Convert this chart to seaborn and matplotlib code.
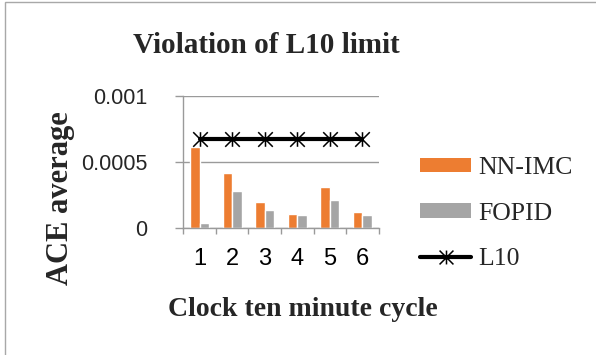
import numpy as np
import pandas as pd
import matplotlib
matplotlib.use('Agg')
import matplotlib.pyplot as plt
import seaborn as sns
from matplotlib.path import Path
from matplotlib.patches import Patch, Rectangle
from matplotlib.lines import Line2D

# ---- data ----
cycles = ['1', '2', '3', '4', '5', '6']
nn_imc = [0.00061, 0.00042, 0.00020, 0.00011, 0.00031, 0.00012]
fopid = [0.00004, 0.00028, 0.00014, 0.00010, 0.00021, 0.00010]
l10 = [0.00067, 0.00067, 0.00067, 0.00067, 0.00067, 0.00067]
series_names = ['NN-IMC', 'FOPID', 'L10']
yticks = [0, 0.0005, 0.001]
ytick_labels = ['0', '0.0005', '0.001']
title = 'Violation of L10 limit'
xlabel = 'Clock ten minute cycle'
ylabel = 'ACE average'

ORANGE = '#ED7D31'
GRAY = '#A5A5A5'
AXGRAY = '#9a9a9a'

sns.set_theme(style='white')
plt.rcParams['font.family'] = ['Liberation Sans', 'DejaVu Sans']

W, H = 596, 355
fig = plt.figure(figsize=(W / 100, H / 100), dpi=100)
ax = fig.add_axes([183.3 / W, 126.7 / H, 195.4 / W, 132.6 / H])

df = pd.DataFrame({
    'cycle': cycles * 2,
    'series': [series_names[0]] * len(cycles) + [series_names[1]] * len(cycles),
    'value': nn_imc + fopid,
})
sns.barplot(data=df, x='cycle', y='value', hue='series', order=cycles,
            hue_order=series_names[:2], palette=[ORANGE, GRAY], width=0.58,
            gap=0, saturation=1, ax=ax, legend=False, errorbar=None)

star = Path([(-1, -1), (1, 1), (-1, 1), (1, -1), (0, -1), (0, 1)],
            [Path.MOVETO, Path.LINETO] * 3)
sns.lineplot(x=np.arange(len(cycles)), y=l10, ax=ax, color='black', lw=3,
             marker=star, markersize=10.5, markeredgecolor='black',
             markeredgewidth=1.1, legend=False)

ax.set_xlim(-0.5, len(cycles) - 0.5)
ax.set_ylim(0, 0.001)
ax.set_yticks(yticks)
ax.set_yticklabels(ytick_labels, fontsize=15.5)
ax.set_xticks(np.arange(len(cycles)))
ax.set_xticklabels(cycles, fontsize=17)
ax.set_xticks(np.arange(len(cycles) + 1) - 0.5, minor=True)
ax.set_xlabel('')
ax.set_ylabel('')
ax.tick_params(axis='x', which='major', length=0, pad=14, colors='black')
ax.tick_params(axis='x', which='minor', length=4.5, width=1, color=AXGRAY, direction='out', bottom=True)
ax.tick_params(axis='y', length=5.8, width=1, color=AXGRAY, direction='out', left=True, pad=20)
for s in ['top', 'right']:
    ax.spines[s].set_visible(False)
for s in ['left', 'bottom']:
    ax.spines[s].set_color(AXGRAY)
    ax.spines[s].set_linewidth(1)
ax.yaxis.grid(True, color=AXGRAY, lw=1)
ax.set_axisbelow(True)

fig.text(266.5 / W, 1 - 53 / H, title, fontsize=21, fontweight='bold',
         family='Liberation Serif', ha='center', va='baseline')
fig.text(303 / W, 1 - 316 / H, xlabel, fontsize=20, fontweight='bold',
         family='Liberation Serif', ha='center', va='baseline')
fig.text(68 / W, 1 - 198 / H, ylabel, fontsize=22, fontweight='bold',
         family='Liberation Serif', ha='center', va='baseline',
         rotation=90, rotation_mode='anchor')

handles = [Patch(facecolor=ORANGE, edgecolor='none'),
           Patch(facecolor=GRAY, edgecolor='none'),
           Line2D([], [], color='black', lw=3, marker=star, markersize=10,
                  markeredgecolor='black', markeredgewidth=1.1)]
fig.legend(handles, series_names, loc='upper left',
           bbox_to_anchor=(420 / W, 1 - 157 / H), frameon=False,
           borderpad=0, borderaxespad=0, handlelength=2.0, handleheight=0.5,
           handletextpad=0.25, labelspacing=0.92,
           prop={'family': 'Liberation Serif', 'size': 18.5})

fig.patches.append(Rectangle((5 / W, -0.1), 1.2, 1.1 - 2 / H, transform=fig.transFigure,
                             fill=False, edgecolor='#a8a8a8', lw=1))

fig.savefig('out.png', dpi=100)
